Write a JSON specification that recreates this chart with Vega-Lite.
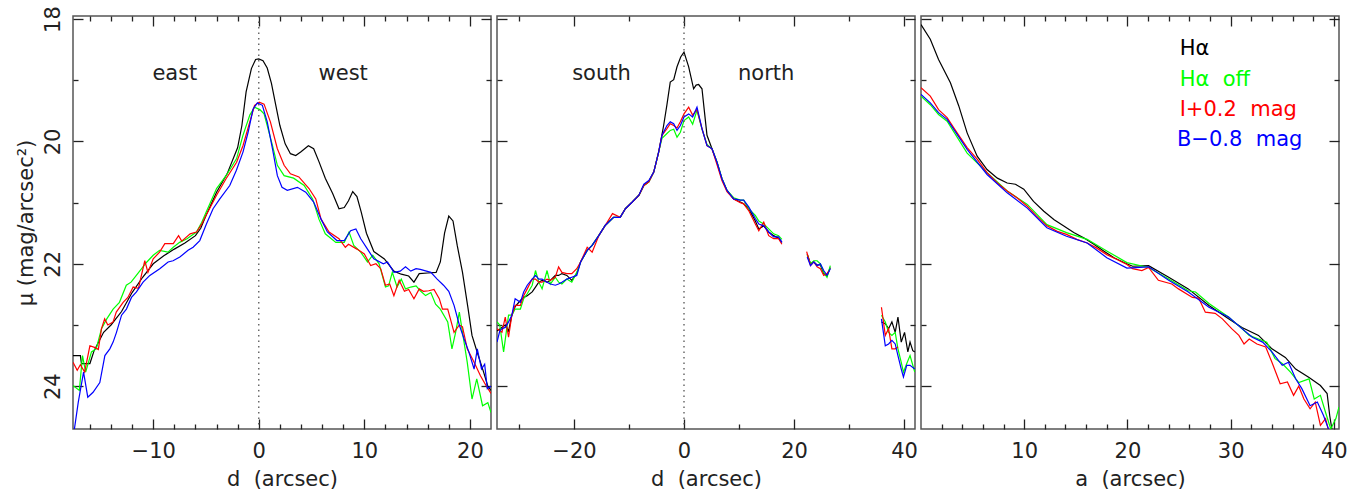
{
"$schema": "https://vega.github.io/schema/vega-lite/v6.json",
"background": "white",
"padding": {"left": 14, "top": 4, "right": 5, "bottom": 5},
"spacing": 6,
"bounds": "flush",
"config": {
  "view": {"stroke": "#555", "strokeWidth": 1.5},
  "axis": {"labelFont": "DejaVu Sans", "titleFont": "DejaVu Sans", "labelFontSize": 21, "titleFontSize": 21, "labelColor": "#222", "titleColor": "#222", "titleFontWeight": "normal", "domain": false, "grid": false, "tickColor": "#222", "tickWidth": 1.3, "labelPadding": 11, "titlePadding": 7}
},
"datasets": {
"p1": [
{"b":"Ha","x":-17.6,"y":23.5},{"b":"Ha","x":-16.9,"y":23.5},{"b":"Ha","x":-16.8,"y":23.63},{"b":"Ha","x":-16.0,"y":23.63},{"b":"Ha","x":-15.6,"y":23.42},{"b":"Ha","x":-14.7,"y":23.12},{"b":"Ha","x":-14.0,"y":23.0},{"b":"Ha","x":-13.0,"y":22.78},{"b":"Ha","x":-12.0,"y":22.47},{"b":"Ha","x":-11.0,"y":22.22},{"b":"Ha","x":-10.0,"y":22.0},{"b":"Ha","x":-9.0,"y":21.87},{"b":"Ha","x":-8.0,"y":21.76},{"b":"Ha","x":-7.0,"y":21.66},{"b":"Ha","x":-6.0,"y":21.54},{"b":"Ha","x":-5.5,"y":21.42},{"b":"Ha","x":-5.0,"y":21.21},{"b":"Ha","x":-4.0,"y":20.83},{"b":"Ha","x":-3.0,"y":20.53},{"b":"Ha","x":-2.0,"y":20.1},{"b":"Ha","x":-1.6,"y":19.74},{"b":"Ha","x":-1.2,"y":19.19},{"b":"Ha","x":-0.7,"y":18.81},{"b":"Ha","x":-0.3,"y":18.66},{"b":"Ha","x":0.0,"y":18.65},{"b":"Ha","x":0.4,"y":18.68},{"b":"Ha","x":0.8,"y":18.8},{"b":"Ha","x":1.2,"y":19.05},{"b":"Ha","x":1.6,"y":19.4},{"b":"Ha","x":2.0,"y":19.74},{"b":"Ha","x":2.5,"y":20.04},{"b":"Ha","x":3.0,"y":20.2},{"b":"Ha","x":3.5,"y":20.23},{"b":"Ha","x":4.0,"y":20.17},{"b":"Ha","x":4.7,"y":20.07},{"b":"Ha","x":5.2,"y":20.12},{"b":"Ha","x":5.7,"y":20.33},{"b":"Ha","x":6.3,"y":20.6},{"b":"Ha","x":7.0,"y":20.85},{"b":"Ha","x":7.6,"y":21.1},{"b":"Ha","x":8.1,"y":21.08},{"b":"Ha","x":8.5,"y":20.97},{"b":"Ha","x":8.9,"y":20.82},{"b":"Ha","x":9.3,"y":20.9},{"b":"Ha","x":9.7,"y":21.15},{"b":"Ha","x":10.2,"y":21.5},{"b":"Ha","x":10.9,"y":21.8},{"b":"Ha","x":11.9,"y":21.92},{"b":"Ha","x":12.8,"y":22.12},{"b":"Ha","x":13.5,"y":22.17},{"b":"Ha","x":14.2,"y":22.2},{"b":"Ha","x":14.7,"y":22.3},{"b":"Ha","x":15.2,"y":22.16},{"b":"Ha","x":16.0,"y":22.15},{"b":"Ha","x":16.8,"y":22.14},{"b":"Ha","x":17.2,"y":21.97},{"b":"Ha","x":17.6,"y":21.5},{"b":"Ha","x":18.0,"y":21.22},{"b":"Ha","x":18.4,"y":21.3},{"b":"Ha","x":18.8,"y":21.7},{"b":"Ha","x":19.3,"y":22.14},{"b":"Ha","x":19.8,"y":22.7},{"b":"Ha","x":20.2,"y":23.17},{"b":"Ha","x":20.7,"y":23.45},{"b":"Ha","x":21.3,"y":23.77},{"b":"Ha","x":21.7,"y":24.0},{"b":"Ha","x":22.0,"y":24.07},
{"b":"Haoff","x":-17.6,"y":23.99},{"b":"Haoff","x":-17.0,"y":24.07},{"b":"Haoff","x":-16.7,"y":23.5},{"b":"Haoff","x":-16.4,"y":23.77},{"b":"Haoff","x":-15.85,"y":23.44},{"b":"Haoff","x":-15.4,"y":23.39},{"b":"Haoff","x":-14.9,"y":23.06},{"b":"Haoff","x":-14.4,"y":22.9},{"b":"Haoff","x":-13.8,"y":22.74},{"b":"Haoff","x":-13.2,"y":22.63},{"b":"Haoff","x":-12.55,"y":22.35},{"b":"Haoff","x":-12.1,"y":22.3},{"b":"Haoff","x":-11.6,"y":22.19},{"b":"Haoff","x":-11.1,"y":22.08},{"b":"Haoff","x":-10.6,"y":21.97},{"b":"Haoff","x":-10.0,"y":21.86},{"b":"Haoff","x":-9.4,"y":21.78},{"b":"Haoff","x":-8.6,"y":21.81},{"b":"Haoff","x":-8.1,"y":21.73},{"b":"Haoff","x":-7.5,"y":21.65},{"b":"Haoff","x":-6.8,"y":21.59},{"b":"Haoff","x":-5.9,"y":21.48},{"b":"Haoff","x":-5.4,"y":21.32},{"b":"Haoff","x":-5.0,"y":21.16},{"b":"Haoff","x":-4.0,"y":20.77},{"b":"Haoff","x":-3.1,"y":20.56},{"b":"Haoff","x":-2.1,"y":20.28},{"b":"Haoff","x":-1.5,"y":19.9},{"b":"Haoff","x":-0.85,"y":19.57},{"b":"Haoff","x":-0.4,"y":19.44},{"b":"Haoff","x":0.1,"y":19.48},{"b":"Haoff","x":0.5,"y":19.55},{"b":"Haoff","x":0.8,"y":19.74},{"b":"Haoff","x":1.3,"y":20.07},{"b":"Haoff","x":1.76,"y":20.39},{"b":"Haoff","x":2.4,"y":20.56},{"b":"Haoff","x":3.3,"y":20.6},{"b":"Haoff","x":4.3,"y":20.72},{"b":"Haoff","x":5.1,"y":20.94},{"b":"Haoff","x":5.7,"y":21.27},{"b":"Haoff","x":6.3,"y":21.51},{"b":"Haoff","x":7.3,"y":21.65},{"b":"Haoff","x":8.1,"y":21.65},{"b":"Haoff","x":8.55,"y":21.48},{"b":"Haoff","x":9.0,"y":21.7},{"b":"Haoff","x":9.66,"y":21.81},{"b":"Haoff","x":10.3,"y":21.97},{"b":"Haoff","x":10.8,"y":21.86},{"b":"Haoff","x":11.4,"y":22.0},{"b":"Haoff","x":12.0,"y":22.38},{"b":"Haoff","x":12.3,"y":22.36},{"b":"Haoff","x":12.65,"y":22.14},{"b":"Haoff","x":13.1,"y":22.38},{"b":"Haoff","x":13.5,"y":22.25},{"b":"Haoff","x":13.9,"y":22.41},{"b":"Haoff","x":14.4,"y":22.38},{"b":"Haoff","x":14.9,"y":22.36},{"b":"Haoff","x":15.3,"y":22.44},{"b":"Haoff","x":15.8,"y":22.52},{"b":"Haoff","x":16.3,"y":22.47},{"b":"Haoff","x":16.75,"y":22.66},{"b":"Haoff","x":17.2,"y":22.74},{"b":"Haoff","x":17.9,"y":22.95},{"b":"Haoff","x":18.3,"y":23.39},{"b":"Haoff","x":18.65,"y":23.12},{"b":"Haoff","x":19.0,"y":22.79},{"b":"Haoff","x":19.3,"y":23.12},{"b":"Haoff","x":19.75,"y":23.61},{"b":"Haoff","x":20.2,"y":24.21},{"b":"Haoff","x":20.65,"y":23.88},{"b":"Haoff","x":21.2,"y":24.32},{"b":"Haoff","x":21.7,"y":24.27},{"b":"Haoff","x":22.0,"y":24.43},
{"b":"I","x":-17.6,"y":23.61},{"b":"I","x":-17.2,"y":23.74},{"b":"I","x":-16.9,"y":23.65},{"b":"I","x":-16.5,"y":23.77},{"b":"I","x":-16.0,"y":23.34},{"b":"I","x":-15.5,"y":23.37},{"b":"I","x":-15.2,"y":23.4},{"b":"I","x":-14.9,"y":23.06},{"b":"I","x":-14.6,"y":22.9},{"b":"I","x":-14.3,"y":23.0},{"b":"I","x":-13.8,"y":22.95},{"b":"I","x":-13.5,"y":22.79},{"b":"I","x":-12.85,"y":22.63},{"b":"I","x":-12.4,"y":22.55},{"b":"I","x":-11.9,"y":22.38},{"b":"I","x":-11.4,"y":22.4},{"b":"I","x":-10.8,"y":21.95},{"b":"I","x":-10.5,"y":22.14},{"b":"I","x":-10.0,"y":21.92},{"b":"I","x":-9.4,"y":21.81},{"b":"I","x":-8.9,"y":21.67},{"b":"I","x":-8.1,"y":21.67},{"b":"I","x":-7.6,"y":21.54},{"b":"I","x":-7.3,"y":21.63},{"b":"I","x":-6.5,"y":21.51},{"b":"I","x":-5.9,"y":21.48},{"b":"I","x":-5.4,"y":21.35},{"b":"I","x":-5.0,"y":21.21},{"b":"I","x":-4.0,"y":20.88},{"b":"I","x":-3.1,"y":20.61},{"b":"I","x":-2.1,"y":20.34},{"b":"I","x":-1.5,"y":20.07},{"b":"I","x":-0.85,"y":19.68},{"b":"I","x":-0.4,"y":19.41},{"b":"I","x":0.05,"y":19.36},{"b":"I","x":0.5,"y":19.39},{"b":"I","x":1.1,"y":19.68},{"b":"I","x":1.76,"y":20.12},{"b":"I","x":2.4,"y":20.39},{"b":"I","x":3.0,"y":20.53},{"b":"I","x":3.8,"y":20.58},{"b":"I","x":4.76,"y":20.77},{"b":"I","x":5.4,"y":20.94},{"b":"I","x":5.9,"y":21.27},{"b":"I","x":6.66,"y":21.48},{"b":"I","x":7.6,"y":21.59},{"b":"I","x":8.2,"y":21.73},{"b":"I","x":8.5,"y":21.68},{"b":"I","x":9.3,"y":21.76},{"b":"I","x":10.0,"y":21.84},{"b":"I","x":10.6,"y":22.03},{"b":"I","x":11.1,"y":22.0},{"b":"I","x":11.55,"y":22.08},{"b":"I","x":12.0,"y":22.35},{"b":"I","x":12.4,"y":22.33},{"b":"I","x":12.8,"y":22.52},{"b":"I","x":13.3,"y":22.27},{"b":"I","x":13.8,"y":22.45},{"b":"I","x":14.2,"y":22.42},{"b":"I","x":14.7,"y":22.57},{"b":"I","x":15.2,"y":22.41},{"b":"I","x":15.6,"y":22.45},{"b":"I","x":16.1,"y":22.44},{"b":"I","x":16.6,"y":22.42},{"b":"I","x":17.1,"y":22.57},{"b":"I","x":17.4,"y":22.74},{"b":"I","x":17.9,"y":22.74},{"b":"I","x":18.5,"y":23.12},{"b":"I","x":19.0,"y":23.0},{"b":"I","x":19.3,"y":23.03},{"b":"I","x":19.75,"y":23.39},{"b":"I","x":20.4,"y":23.61},{"b":"I","x":21.0,"y":23.83},{"b":"I","x":21.5,"y":23.98},{"b":"I","x":22.0,"y":24.12},
{"b":"B","x":-17.55,"y":24.8},{"b":"B","x":-17.1,"y":24.26},{"b":"B","x":-16.6,"y":23.77},{"b":"B","x":-16.2,"y":24.18},{"b":"B","x":-15.7,"y":24.1},{"b":"B","x":-15.06,"y":23.94},{"b":"B","x":-14.58,"y":23.5},{"b":"B","x":-14.11,"y":23.39},{"b":"B","x":-13.8,"y":23.28},{"b":"B","x":-13.48,"y":23.12},{"b":"B","x":-13.0,"y":22.84},{"b":"B","x":-12.54,"y":22.74},{"b":"B","x":-12.06,"y":22.55},{"b":"B","x":-11.59,"y":22.46},{"b":"B","x":-10.96,"y":22.3},{"b":"B","x":-10.32,"y":22.19},{"b":"B","x":-9.38,"y":22.08},{"b":"B","x":-8.59,"y":21.97},{"b":"B","x":-8.12,"y":21.95},{"b":"B","x":-7.48,"y":21.89},{"b":"B","x":-6.7,"y":21.78},{"b":"B","x":-6.22,"y":21.73},{"b":"B","x":-5.59,"y":21.62},{"b":"B","x":-4.96,"y":21.35},{"b":"B","x":-4.33,"y":21.1},{"b":"B","x":-3.69,"y":20.94},{"b":"B","x":-2.75,"y":20.72},{"b":"B","x":-2.12,"y":20.47},{"b":"B","x":-1.49,"y":20.17},{"b":"B","x":-1.01,"y":19.85},{"b":"B","x":-0.54,"y":19.47},{"b":"B","x":-0.13,"y":19.37},{"b":"B","x":0.34,"y":19.41},{"b":"B","x":0.8,"y":19.68},{"b":"B","x":1.3,"y":20.12},{"b":"B","x":1.76,"y":20.56},{"b":"B","x":2.2,"y":20.75},{"b":"B","x":2.7,"y":20.8},{"b":"B","x":3.66,"y":20.75},{"b":"B","x":4.45,"y":20.83},{"b":"B","x":5.2,"y":20.99},{"b":"B","x":5.9,"y":21.27},{"b":"B","x":6.5,"y":21.48},{"b":"B","x":7.4,"y":21.62},{"b":"B","x":8.1,"y":21.62},{"b":"B","x":8.7,"y":21.46},{"b":"B","x":9.2,"y":21.43},{"b":"B","x":9.66,"y":21.59},{"b":"B","x":10.3,"y":21.76},{"b":"B","x":10.9,"y":21.92},{"b":"B","x":11.8,"y":22.0},{"b":"B","x":12.2,"y":21.97},{"b":"B","x":12.8,"y":22.14},{"b":"B","x":13.4,"y":22.12},{"b":"B","x":13.9,"y":22.05},{"b":"B","x":14.4,"y":22.12},{"b":"B","x":14.9,"y":22.08},{"b":"B","x":15.3,"y":22.09},{"b":"B","x":16.3,"y":22.14},{"b":"B","x":16.9,"y":22.25},{"b":"B","x":17.5,"y":22.35},{"b":"B","x":18.0,"y":22.45},{"b":"B","x":18.5,"y":22.68},{"b":"B","x":19.0,"y":23.0},{"b":"B","x":19.45,"y":23.23},{"b":"B","x":19.9,"y":23.44},{"b":"B","x":20.4,"y":23.72},{"b":"B","x":20.7,"y":23.39},{"b":"B","x":21.1,"y":23.72},{"b":"B","x":21.4,"y":23.64},{"b":"B","x":21.65,"y":24.04},{"b":"B","x":22.0,"y":24.0}
],
"p2": [
{"b":"Ha","s":1,"x":-34.0,"y":23.1},{"b":"Ha","s":1,"x":-33.1,"y":23.04},{"b":"Ha","s":1,"x":-32.5,"y":23.0},{"b":"Ha","s":1,"x":-31.9,"y":23.1},{"b":"Ha","s":1,"x":-31.3,"y":22.84},{"b":"Ha","s":1,"x":-30.7,"y":22.7},{"b":"Ha","s":1,"x":-29.75,"y":22.6},{"b":"Ha","s":1,"x":-29.15,"y":22.55},{"b":"Ha","s":1,"x":-28.5,"y":22.52},{"b":"Ha","s":1,"x":-27.6,"y":22.46},{"b":"Ha","s":1,"x":-27.0,"y":22.38},{"b":"Ha","s":1,"x":-26.4,"y":22.3},{"b":"Ha","s":1,"x":-25.8,"y":22.27},{"b":"Ha","s":1,"x":-24.9,"y":22.3},{"b":"Ha","s":1,"x":-24.3,"y":22.27},{"b":"Ha","s":1,"x":-23.4,"y":22.19},{"b":"Ha","s":1,"x":-22.8,"y":22.19},{"b":"Ha","s":1,"x":-22.2,"y":22.16},{"b":"Ha","s":1,"x":-21.3,"y":22.19},{"b":"Ha","s":1,"x":-20.4,"y":22.27},{"b":"Ha","s":1,"x":-19.5,"y":22.16},{"b":"Ha","s":1,"x":-18.8,"y":21.97},{"b":"Ha","s":1,"x":-17.6,"y":21.78},{"b":"Ha","s":1,"x":-16.7,"y":21.7},{"b":"Ha","s":1,"x":-15.5,"y":21.54},{"b":"Ha","s":1,"x":-14.3,"y":21.37},{"b":"Ha","s":1,"x":-12.8,"y":21.24},{"b":"Ha","s":1,"x":-11.6,"y":21.24},{"b":"Ha","s":1,"x":-10.66,"y":21.1},{"b":"Ha","s":1,"x":-9.4,"y":20.99},{"b":"Ha","s":1,"x":-8.2,"y":20.88},{"b":"Ha","s":1,"x":-7.3,"y":20.72},{"b":"Ha","s":1,"x":-6.4,"y":20.66},{"b":"Ha","s":1,"x":-5.5,"y":20.5},{"b":"Ha","s":1,"x":-4.6,"y":20.17},{"b":"Ha","s":1,"x":-3.7,"y":19.74},{"b":"Ha","s":1,"x":-3.1,"y":19.4},{"b":"Ha","s":1,"x":-2.5,"y":19.03},{"b":"Ha","s":1,"x":-1.87,"y":18.99},{"b":"Ha","s":1,"x":-1.27,"y":18.78},{"b":"Ha","s":1,"x":-0.6,"y":18.62},{"b":"Ha","s":1,"x":0.0,"y":18.54},{"b":"Ha","s":1,"x":0.85,"y":18.78},{"b":"Ha","s":1,"x":1.75,"y":19.14},{"b":"Ha","s":1,"x":2.2,"y":19.08},{"b":"Ha","s":1,"x":2.66,"y":19.07},{"b":"Ha","s":1,"x":3.27,"y":19.14},{"b":"Ha","s":1,"x":3.7,"y":19.5},{"b":"Ha","s":1,"x":4.18,"y":19.9},{"b":"Ha","s":1,"x":5.09,"y":20.12},{"b":"Ha","s":1,"x":6.0,"y":20.34},{"b":"Ha","s":1,"x":6.9,"y":20.61},{"b":"Ha","s":1,"x":7.82,"y":20.8},{"b":"Ha","s":1,"x":9.03,"y":20.94},{"b":"Ha","s":1,"x":10.24,"y":20.99},{"b":"Ha","s":1,"x":10.85,"y":21.02},{"b":"Ha","s":1,"x":11.76,"y":21.1},{"b":"Ha","s":1,"x":12.97,"y":21.3},{"b":"Ha","s":1,"x":13.6,"y":21.43},{"b":"Ha","s":1,"x":14.5,"y":21.38},{"b":"Ha","s":1,"x":15.4,"y":21.48},{"b":"Ha","s":1,"x":16.3,"y":21.54},{"b":"Ha","s":1,"x":17.2,"y":21.58},{"b":"Ha","s":1,"x":17.8,"y":21.65},
{"b":"Ha","s":2,"x":22.4,"y":21.84},{"b":"Ha","s":2,"x":23.0,"y":22.0},{"b":"Ha","s":2,"x":23.6,"y":21.97},{"b":"Ha","s":2,"x":24.2,"y":22.02},{"b":"Ha","s":2,"x":24.8,"y":22.02},{"b":"Ha","s":2,"x":25.4,"y":22.16},{"b":"Ha","s":2,"x":26.0,"y":22.2},{"b":"Ha","s":2,"x":26.6,"y":22.06},
{"b":"Ha","s":3,"x":35.9,"y":22.95},{"b":"Ha","s":3,"x":36.6,"y":22.98},{"b":"Ha","s":3,"x":37.2,"y":23.06},{"b":"Ha","s":3,"x":37.8,"y":22.95},{"b":"Ha","s":3,"x":38.4,"y":23.12},{"b":"Ha","s":3,"x":38.9,"y":22.87},{"b":"Ha","s":3,"x":39.5,"y":23.28},{"b":"Ha","s":3,"x":40.1,"y":23.12},{"b":"Ha","s":3,"x":40.7,"y":23.44},{"b":"Ha","s":3,"x":41.1,"y":23.28},{"b":"Ha","s":3,"x":41.6,"y":23.42},{"b":"Ha","s":3,"x":41.95,"y":23.44},
{"b":"Haoff","s":1,"x":-34.0,"y":22.95},{"b":"Haoff","s":1,"x":-33.5,"y":23.0},{"b":"Haoff","s":1,"x":-32.8,"y":23.44},{"b":"Haoff","s":1,"x":-31.9,"y":22.84},{"b":"Haoff","s":1,"x":-31.3,"y":22.84},{"b":"Haoff","s":1,"x":-30.7,"y":22.74},{"b":"Haoff","s":1,"x":-29.75,"y":22.74},{"b":"Haoff","s":1,"x":-29.15,"y":22.57},{"b":"Haoff","s":1,"x":-28.5,"y":22.49},{"b":"Haoff","s":1,"x":-27.6,"y":22.35},{"b":"Haoff","s":1,"x":-27.0,"y":22.11},{"b":"Haoff","s":1,"x":-26.4,"y":22.3},{"b":"Haoff","s":1,"x":-25.8,"y":22.41},{"b":"Haoff","s":1,"x":-24.9,"y":22.11},{"b":"Haoff","s":1,"x":-24.3,"y":22.33},{"b":"Haoff","s":1,"x":-23.4,"y":22.22},{"b":"Haoff","s":1,"x":-22.8,"y":22.3},{"b":"Haoff","s":1,"x":-22.2,"y":22.33},{"b":"Haoff","s":1,"x":-21.3,"y":22.25},{"b":"Haoff","s":1,"x":-20.4,"y":22.3},{"b":"Haoff","s":1,"x":-19.5,"y":22.14},{"b":"Haoff","s":1,"x":-18.8,"y":21.97},{"b":"Haoff","s":1,"x":-17.6,"y":21.78},{"b":"Haoff","s":1,"x":-16.7,"y":21.7},{"b":"Haoff","s":1,"x":-15.5,"y":21.54},{"b":"Haoff","s":1,"x":-14.3,"y":21.37},{"b":"Haoff","s":1,"x":-12.8,"y":21.24},{"b":"Haoff","s":1,"x":-11.6,"y":21.24},{"b":"Haoff","s":1,"x":-10.66,"y":21.1},{"b":"Haoff","s":1,"x":-9.4,"y":20.99},{"b":"Haoff","s":1,"x":-8.2,"y":20.88},{"b":"Haoff","s":1,"x":-7.3,"y":20.72},{"b":"Haoff","s":1,"x":-6.4,"y":20.66},{"b":"Haoff","s":1,"x":-5.5,"y":20.5},{"b":"Haoff","s":1,"x":-4.6,"y":20.17},{"b":"Haoff","s":1,"x":-4.0,"y":19.95},{"b":"Haoff","s":1,"x":-3.1,"y":19.87},{"b":"Haoff","s":1,"x":-2.5,"y":19.82},{"b":"Haoff","s":1,"x":-1.87,"y":19.8},{"b":"Haoff","s":1,"x":-1.27,"y":19.93},{"b":"Haoff","s":1,"x":-0.66,"y":19.85},{"b":"Haoff","s":1,"x":0.0,"y":19.66},{"b":"Haoff","s":1,"x":0.85,"y":19.6},{"b":"Haoff","s":1,"x":1.57,"y":19.72},{"b":"Haoff","s":1,"x":2.36,"y":19.49},{"b":"Haoff","s":1,"x":3.27,"y":19.8},{"b":"Haoff","s":1,"x":4.18,"y":20.05},{"b":"Haoff","s":1,"x":5.09,"y":20.12},{"b":"Haoff","s":1,"x":6.0,"y":20.34},{"b":"Haoff","s":1,"x":6.9,"y":20.61},{"b":"Haoff","s":1,"x":7.82,"y":20.8},{"b":"Haoff","s":1,"x":9.03,"y":20.92},{"b":"Haoff","s":1,"x":10.24,"y":20.96},{"b":"Haoff","s":1,"x":10.85,"y":20.96},{"b":"Haoff","s":1,"x":11.76,"y":21.1},{"b":"Haoff","s":1,"x":12.97,"y":21.21},{"b":"Haoff","s":1,"x":13.6,"y":21.3},{"b":"Haoff","s":1,"x":14.5,"y":21.35},{"b":"Haoff","s":1,"x":15.4,"y":21.43},{"b":"Haoff","s":1,"x":16.3,"y":21.51},{"b":"Haoff","s":1,"x":17.2,"y":21.54},{"b":"Haoff","s":1,"x":17.8,"y":21.6},
{"b":"Haoff","s":2,"x":22.4,"y":21.86},{"b":"Haoff","s":2,"x":23.0,"y":22.0},{"b":"Haoff","s":2,"x":23.6,"y":21.95},{"b":"Haoff","s":2,"x":24.2,"y":21.95},{"b":"Haoff","s":2,"x":24.8,"y":22.0},{"b":"Haoff","s":2,"x":25.4,"y":22.14},{"b":"Haoff","s":2,"x":26.0,"y":22.22},{"b":"Haoff","s":2,"x":26.6,"y":22.03},
{"b":"Haoff","s":3,"x":35.9,"y":22.84},{"b":"Haoff","s":3,"x":36.6,"y":22.95},{"b":"Haoff","s":3,"x":37.2,"y":23.12},{"b":"Haoff","s":3,"x":37.8,"y":23.17},{"b":"Haoff","s":3,"x":38.4,"y":23.12},{"b":"Haoff","s":3,"x":38.9,"y":23.39},{"b":"Haoff","s":3,"x":39.5,"y":23.61},{"b":"Haoff","s":3,"x":39.9,"y":23.77},{"b":"Haoff","s":3,"x":40.5,"y":23.63},{"b":"Haoff","s":3,"x":41.1,"y":23.5},{"b":"Haoff","s":3,"x":41.95,"y":23.77},
{"b":"I","s":1,"x":-34.0,"y":23.06},{"b":"I","s":1,"x":-33.1,"y":23.12},{"b":"I","s":1,"x":-32.5,"y":22.87},{"b":"I","s":1,"x":-31.9,"y":23.2},{"b":"I","s":1,"x":-31.3,"y":22.84},{"b":"I","s":1,"x":-30.7,"y":22.68},{"b":"I","s":1,"x":-29.75,"y":22.68},{"b":"I","s":1,"x":-29.15,"y":22.52},{"b":"I","s":1,"x":-28.5,"y":22.41},{"b":"I","s":1,"x":-27.6,"y":22.25},{"b":"I","s":1,"x":-27.0,"y":22.25},{"b":"I","s":1,"x":-26.4,"y":22.3},{"b":"I","s":1,"x":-25.8,"y":22.3},{"b":"I","s":1,"x":-24.9,"y":22.25},{"b":"I","s":1,"x":-24.3,"y":22.27},{"b":"I","s":1,"x":-23.4,"y":22.22},{"b":"I","s":1,"x":-22.8,"y":22.05},{"b":"I","s":1,"x":-22.2,"y":22.14},{"b":"I","s":1,"x":-21.3,"y":22.16},{"b":"I","s":1,"x":-20.4,"y":22.16},{"b":"I","s":1,"x":-19.5,"y":22.08},{"b":"I","s":1,"x":-18.8,"y":21.97},{"b":"I","s":1,"x":-17.6,"y":21.73},{"b":"I","s":1,"x":-16.7,"y":21.81},{"b":"I","s":1,"x":-15.5,"y":21.54},{"b":"I","s":1,"x":-14.3,"y":21.37},{"b":"I","s":1,"x":-13.0,"y":21.18},{"b":"I","s":1,"x":-11.6,"y":21.24},{"b":"I","s":1,"x":-10.66,"y":21.1},{"b":"I","s":1,"x":-9.4,"y":20.99},{"b":"I","s":1,"x":-8.2,"y":20.88},{"b":"I","s":1,"x":-7.3,"y":20.72},{"b":"I","s":1,"x":-6.4,"y":20.66},{"b":"I","s":1,"x":-5.5,"y":20.5},{"b":"I","s":1,"x":-4.6,"y":20.17},{"b":"I","s":1,"x":-4.0,"y":19.9},{"b":"I","s":1,"x":-3.1,"y":19.79},{"b":"I","s":1,"x":-2.5,"y":19.71},{"b":"I","s":1,"x":-1.87,"y":19.74},{"b":"I","s":1,"x":-1.27,"y":19.78},{"b":"I","s":1,"x":-0.66,"y":19.68},{"b":"I","s":1,"x":0.0,"y":19.55},{"b":"I","s":1,"x":0.85,"y":19.44},{"b":"I","s":1,"x":1.57,"y":19.57},{"b":"I","s":1,"x":2.36,"y":19.48},{"b":"I","s":1,"x":3.27,"y":19.79},{"b":"I","s":1,"x":4.18,"y":20.07},{"b":"I","s":1,"x":5.09,"y":20.12},{"b":"I","s":1,"x":6.0,"y":20.38},{"b":"I","s":1,"x":6.9,"y":20.64},{"b":"I","s":1,"x":7.82,"y":20.82},{"b":"I","s":1,"x":9.03,"y":20.94},{"b":"I","s":1,"x":10.24,"y":21.0},{"b":"I","s":1,"x":10.85,"y":21.02},{"b":"I","s":1,"x":11.76,"y":21.13},{"b":"I","s":1,"x":12.97,"y":21.35},{"b":"I","s":1,"x":13.6,"y":21.46},{"b":"I","s":1,"x":14.5,"y":21.32},{"b":"I","s":1,"x":15.4,"y":21.54},{"b":"I","s":1,"x":16.3,"y":21.59},{"b":"I","s":1,"x":17.2,"y":21.59},{"b":"I","s":1,"x":17.8,"y":21.68},
{"b":"I","s":2,"x":22.3,"y":21.8},{"b":"I","s":2,"x":23.0,"y":22.03},{"b":"I","s":2,"x":23.6,"y":21.97},{"b":"I","s":2,"x":24.2,"y":22.05},{"b":"I","s":2,"x":24.8,"y":22.08},{"b":"I","s":2,"x":25.4,"y":22.19},{"b":"I","s":2,"x":26.0,"y":22.16},{"b":"I","s":2,"x":26.3,"y":22.12},
{"b":"I","s":3,"x":35.9,"y":22.71},{"b":"I","s":3,"x":36.6,"y":23.17},{"b":"I","s":3,"x":37.2,"y":23.06},{"b":"I","s":3,"x":37.8,"y":23.39},{"b":"I","s":3,"x":38.4,"y":23.39},{"b":"I","s":3,"x":38.9,"y":23.36},
{"b":"B","s":1,"x":-34.0,"y":23.28},{"b":"B","s":1,"x":-33.5,"y":23.1},{"b":"B","s":1,"x":-33.1,"y":23.06},{"b":"B","s":1,"x":-32.5,"y":23.04},{"b":"B","s":1,"x":-31.9,"y":22.95},{"b":"B","s":1,"x":-31.3,"y":22.84},{"b":"B","s":1,"x":-30.7,"y":22.57},{"b":"B","s":1,"x":-29.75,"y":22.63},{"b":"B","s":1,"x":-29.15,"y":22.46},{"b":"B","s":1,"x":-28.5,"y":22.35},{"b":"B","s":1,"x":-27.6,"y":22.25},{"b":"B","s":1,"x":-27.0,"y":22.19},{"b":"B","s":1,"x":-26.4,"y":22.25},{"b":"B","s":1,"x":-25.8,"y":22.25},{"b":"B","s":1,"x":-24.9,"y":22.3},{"b":"B","s":1,"x":-24.3,"y":22.33},{"b":"B","s":1,"x":-23.4,"y":22.35},{"b":"B","s":1,"x":-22.8,"y":22.33},{"b":"B","s":1,"x":-22.2,"y":22.3},{"b":"B","s":1,"x":-21.3,"y":22.25},{"b":"B","s":1,"x":-20.4,"y":22.22},{"b":"B","s":1,"x":-19.5,"y":22.19},{"b":"B","s":1,"x":-18.8,"y":21.97},{"b":"B","s":1,"x":-17.6,"y":21.78},{"b":"B","s":1,"x":-16.7,"y":21.7},{"b":"B","s":1,"x":-15.5,"y":21.54},{"b":"B","s":1,"x":-14.3,"y":21.37},{"b":"B","s":1,"x":-12.8,"y":21.24},{"b":"B","s":1,"x":-11.6,"y":21.24},{"b":"B","s":1,"x":-10.66,"y":21.1},{"b":"B","s":1,"x":-9.4,"y":20.99},{"b":"B","s":1,"x":-8.2,"y":20.88},{"b":"B","s":1,"x":-7.3,"y":20.7},{"b":"B","s":1,"x":-6.4,"y":20.64},{"b":"B","s":1,"x":-5.5,"y":20.5},{"b":"B","s":1,"x":-4.6,"y":20.17},{"b":"B","s":1,"x":-4.0,"y":19.9},{"b":"B","s":1,"x":-3.1,"y":19.74},{"b":"B","s":1,"x":-2.5,"y":19.68},{"b":"B","s":1,"x":-1.87,"y":19.71},{"b":"B","s":1,"x":-1.27,"y":19.82},{"b":"B","s":1,"x":-0.66,"y":19.74},{"b":"B","s":1,"x":0.0,"y":19.6},{"b":"B","s":1,"x":0.85,"y":19.55},{"b":"B","s":1,"x":1.57,"y":19.6},{"b":"B","s":1,"x":2.36,"y":19.44},{"b":"B","s":1,"x":3.27,"y":19.79},{"b":"B","s":1,"x":4.18,"y":20.07},{"b":"B","s":1,"x":5.09,"y":20.12},{"b":"B","s":1,"x":6.0,"y":20.34},{"b":"B","s":1,"x":6.9,"y":20.61},{"b":"B","s":1,"x":7.82,"y":20.8},{"b":"B","s":1,"x":9.03,"y":20.94},{"b":"B","s":1,"x":10.24,"y":20.96},{"b":"B","s":1,"x":10.85,"y":20.96},{"b":"B","s":1,"x":11.76,"y":21.07},{"b":"B","s":1,"x":12.97,"y":21.26},{"b":"B","s":1,"x":13.6,"y":21.35},{"b":"B","s":1,"x":14.5,"y":21.38},{"b":"B","s":1,"x":15.4,"y":21.48},{"b":"B","s":1,"x":16.3,"y":21.56},{"b":"B","s":1,"x":17.2,"y":21.56},{"b":"B","s":1,"x":17.8,"y":21.65},
{"b":"B","s":2,"x":22.4,"y":21.89},{"b":"B","s":2,"x":23.0,"y":22.03},{"b":"B","s":2,"x":23.6,"y":21.97},{"b":"B","s":2,"x":24.2,"y":22.03},{"b":"B","s":2,"x":24.8,"y":22.0},{"b":"B","s":2,"x":25.4,"y":22.11},{"b":"B","s":2,"x":26.0,"y":22.19},{"b":"B","s":2,"x":26.6,"y":22.08},
{"b":"B","s":3,"x":35.9,"y":22.9},{"b":"B","s":3,"x":36.6,"y":23.34},{"b":"B","s":3,"x":37.2,"y":23.31},{"b":"B","s":3,"x":37.8,"y":23.25},{"b":"B","s":3,"x":38.4,"y":23.31},{"b":"B","s":3,"x":38.9,"y":23.5},{"b":"B","s":3,"x":39.5,"y":23.72},{"b":"B","s":3,"x":39.9,"y":23.85},{"b":"B","s":3,"x":40.5,"y":23.66},{"b":"B","s":3,"x":41.1,"y":23.66},{"b":"B","s":3,"x":41.95,"y":23.72}
],
"p3": [
{"b":"Ha","x":0.0,"y":18.09},{"b":"Ha","x":0.9,"y":18.33},{"b":"Ha","x":1.7,"y":18.66},{"b":"Ha","x":2.85,"y":19.04},{"b":"Ha","x":3.66,"y":19.42},{"b":"Ha","x":4.47,"y":19.86},{"b":"Ha","x":5.44,"y":20.24},{"b":"Ha","x":6.4,"y":20.46},{"b":"Ha","x":7.4,"y":20.6},{"b":"Ha","x":8.35,"y":20.68},{"b":"Ha","x":9.15,"y":20.7},{"b":"Ha","x":9.96,"y":20.78},{"b":"Ha","x":10.9,"y":20.98},{"b":"Ha","x":11.9,"y":21.14},{"b":"Ha","x":12.9,"y":21.28},{"b":"Ha","x":13.8,"y":21.38},{"b":"Ha","x":14.8,"y":21.49},{"b":"Ha","x":15.8,"y":21.58},{"b":"Ha","x":16.75,"y":21.68},{"b":"Ha","x":17.7,"y":21.79},{"b":"Ha","x":18.7,"y":21.9},{"b":"Ha","x":19.66,"y":21.98},{"b":"Ha","x":20.5,"y":22.04},{"b":"Ha","x":22.05,"y":22.03},{"b":"Ha","x":24.0,"y":22.22},{"b":"Ha","x":25.9,"y":22.41},{"b":"Ha","x":27.9,"y":22.68},{"b":"Ha","x":29.8,"y":22.9},{"b":"Ha","x":31.1,"y":23.04},{"b":"Ha","x":32.7,"y":23.17},{"b":"Ha","x":34.0,"y":23.39},{"b":"Ha","x":35.3,"y":23.53},{"b":"Ha","x":36.3,"y":23.72},{"b":"Ha","x":37.6,"y":23.86},{"b":"Ha","x":38.7,"y":23.99},{"b":"Ha","x":39.35,"y":24.12},{"b":"Ha","x":39.6,"y":24.48},{"b":"Ha","x":39.9,"y":24.8},
{"b":"Haoff","x":0.0,"y":19.26},{"b":"Haoff","x":0.9,"y":19.4},{"b":"Haoff","x":1.7,"y":19.56},{"b":"Haoff","x":2.53,"y":19.67},{"b":"Haoff","x":4.47,"y":20.19},{"b":"Haoff","x":6.4,"y":20.51},{"b":"Haoff","x":8.35,"y":20.81},{"b":"Haoff","x":10.3,"y":21.03},{"b":"Haoff","x":12.2,"y":21.36},{"b":"Haoff","x":14.1,"y":21.49},{"b":"Haoff","x":16.1,"y":21.6},{"b":"Haoff","x":18.0,"y":21.79},{"b":"Haoff","x":19.95,"y":21.98},{"b":"Haoff","x":22.05,"y":22.06},{"b":"Haoff","x":24.0,"y":22.25},{"b":"Haoff","x":25.9,"y":22.44},{"b":"Haoff","x":26.6,"y":22.46},{"b":"Haoff","x":27.9,"y":22.65},{"b":"Haoff","x":29.8,"y":22.87},{"b":"Haoff","x":31.1,"y":23.06},{"b":"Haoff","x":31.8,"y":23.17},{"b":"Haoff","x":32.7,"y":23.23},{"b":"Haoff","x":33.5,"y":23.28},{"b":"Haoff","x":34.3,"y":23.55},{"b":"Haoff","x":35.0,"y":23.63},{"b":"Haoff","x":35.8,"y":23.77},{"b":"Haoff","x":36.6,"y":23.94},{"b":"Haoff","x":37.6,"y":23.88},{"b":"Haoff","x":38.1,"y":24.21},{"b":"Haoff","x":38.7,"y":24.15},{"b":"Haoff","x":39.2,"y":24.43},{"b":"Haoff","x":39.7,"y":24.7},{"b":"Haoff","x":40.2,"y":24.53},{"b":"Haoff","x":40.5,"y":24.34},
{"b":"I","x":0.0,"y":19.12},{"b":"I","x":0.9,"y":19.26},{"b":"I","x":1.7,"y":19.48},{"b":"I","x":2.53,"y":19.61},{"b":"I","x":3.5,"y":19.86},{"b":"I","x":4.47,"y":20.1},{"b":"I","x":5.44,"y":20.29},{"b":"I","x":6.4,"y":20.51},{"b":"I","x":7.4,"y":20.68},{"b":"I","x":8.35,"y":20.81},{"b":"I","x":9.3,"y":20.92},{"b":"I","x":10.3,"y":21.06},{"b":"I","x":11.2,"y":21.22},{"b":"I","x":12.2,"y":21.38},{"b":"I","x":13.2,"y":21.47},{"b":"I","x":14.1,"y":21.52},{"b":"I","x":15.1,"y":21.6},{"b":"I","x":16.1,"y":21.66},{"b":"I","x":17.0,"y":21.74},{"b":"I","x":18.0,"y":21.85},{"b":"I","x":19.0,"y":21.93},{"b":"I","x":19.95,"y":22.01},{"b":"I","x":20.5,"y":22.08},{"b":"I","x":21.4,"y":22.11},{"b":"I","x":22.05,"y":22.06},{"b":"I","x":23.0,"y":22.27},{"b":"I","x":24.3,"y":22.33},{"b":"I","x":24.95,"y":22.41},{"b":"I","x":26.3,"y":22.55},{"b":"I","x":26.9,"y":22.56},{"b":"I","x":27.55,"y":22.79},{"b":"I","x":28.5,"y":22.81},{"b":"I","x":29.2,"y":22.9},{"b":"I","x":30.1,"y":23.06},{"b":"I","x":30.8,"y":23.17},{"b":"I","x":31.3,"y":23.31},{"b":"I","x":31.8,"y":23.23},{"b":"I","x":32.55,"y":23.31},{"b":"I","x":33.4,"y":23.36},{"b":"I","x":34.0,"y":23.61},{"b":"I","x":34.8,"y":23.96},{"b":"I","x":35.5,"y":23.93},{"b":"I","x":36.1,"y":24.15},{"b":"I","x":36.6,"y":24.0},{"b":"I","x":37.1,"y":24.21},{"b":"I","x":37.7,"y":24.37},{"b":"I","x":38.2,"y":24.26},{"b":"I","x":38.7,"y":24.64},{"b":"I","x":39.2,"y":24.53},{"b":"I","x":39.6,"y":24.8},
{"b":"B","x":0.0,"y":19.23},{"b":"B","x":0.9,"y":19.37},{"b":"B","x":1.7,"y":19.53},{"b":"B","x":2.53,"y":19.64},{"b":"B","x":4.47,"y":20.13},{"b":"B","x":6.4,"y":20.54},{"b":"B","x":8.35,"y":20.84},{"b":"B","x":10.3,"y":21.09},{"b":"B","x":12.2,"y":21.41},{"b":"B","x":14.1,"y":21.55},{"b":"B","x":16.1,"y":21.66},{"b":"B","x":18.0,"y":21.9},{"b":"B","x":19.95,"y":22.07},{"b":"B","x":22.05,"y":22.05},{"b":"B","x":24.0,"y":22.27},{"b":"B","x":25.9,"y":22.46},{"b":"B","x":27.9,"y":22.71},{"b":"B","x":29.8,"y":22.87},{"b":"B","x":31.1,"y":23.06},{"b":"B","x":32.1,"y":23.2},{"b":"B","x":33.1,"y":23.28},{"b":"B","x":34.0,"y":23.44},{"b":"B","x":35.0,"y":23.66},{"b":"B","x":35.6,"y":23.61},{"b":"B","x":36.3,"y":23.88},{"b":"B","x":36.9,"y":24.04},{"b":"B","x":37.7,"y":24.32},{"b":"B","x":38.4,"y":24.26},{"b":"B","x":39.0,"y":24.48},{"b":"B","x":39.7,"y":24.8}
]
},
"hconcat": [
{
  "width": 418, "height": 413,
  "layer": [
    {"data": {"name": "p1"}, "mark": {"type": "line", "strokeWidth": 1.2, "clip": true},
     "encoding": {
       "x": {"field": "x", "type": "quantitative", "scale": {"domain": [-17.6, 22], "nice": false, "zero": false},
             "axis": {"orient": "bottom", "title": "d\u00a0 (arcsec)", "values": [-10,0,10,20], "offset": -10, "tickSize": 10}},
       "y": {"field": "y", "type": "quantitative", "scale": {"domain": [24.7, 17.95], "nice": false, "zero": false},
             "axis": {"orient": "left", "title": "μ (mag/arcsec²)", "values": [18,20,22,24], "offset": -10, "tickSize": 10, "labelAngle": -90, "labelAlign": "center", "labelBaseline": "bottom", "labelPadding": 10, "titlePadding": 6, "minExtent": 0}},
       "color": {"field": "b", "type": "nominal", "scale": {"domain": ["Ha","Haoff","I","B"], "range": ["#000000","#00ff00","#ff0000","#0000ff"]}, "legend": null}
     }},
    {"data": {"values": [{}]}, "mark": {"type": "rule", "strokeDash": [1.5, 4], "color": "#555", "strokeWidth": 1.3},
     "encoding": {"x": {"datum": 0, "type": "quantitative", "scale": {"domain": [-17.6, 22], "nice": false, "zero": false}, "axis": null}}},
    {"data": {"values": [{"t": "east", "x": -7.95, "y": 18.9}, {"t": "west", "x": 8.0, "y": 18.9}]},
     "mark": {"type": "text", "font": "DejaVu Sans", "fontSize": 21, "color": "#222", "baseline": "middle"},
     "encoding": {"x": {"field": "x", "type": "quantitative", "scale": {"domain": [-17.6, 22], "nice": false, "zero": false}, "axis": null},
                  "y": {"field": "y", "type": "quantitative", "scale": {"domain": [24.7, 17.95], "nice": false, "zero": false}, "axis": null},
                  "text": {"field": "t"}}},
    {"data": {"values": [{}]}, "mark": {"type": "point", "opacity": 0, "size": 0},
     "encoding": {
       "x": {"datum": 2, "type": "quantitative", "scale": {"domain": [-17.6, 22], "nice": false, "zero": false},
             "axis": {"orient": "top", "title": null, "labels": false, "values": [-10,0,10,20], "offset": -10, "tickSize": 10}},
       "y": {"datum": 21, "type": "quantitative", "scale": {"domain": [24.7, 17.95], "nice": false, "zero": false},
             "axis": {"orient": "right", "title": null, "labels": false, "values": [18,20,22,24], "offset": -10, "tickSize": 10}}
     }},
    {"data": {"values": [{}]}, "mark": {"type": "point", "opacity": 0, "size": 0},
     "encoding": {
       "x": {"datum": 2, "type": "quantitative", "scale": {"domain": [-17.6, 22], "nice": false, "zero": false},
             "axis": {"orient": "bottom", "title": null, "labels": false, "values": [-16,-14,-12,-8,-6,-4,-2,2,4,6,8,12,14,16,18], "offset": -5, "tickSize": 5}},
       "y": {"datum": 21, "type": "quantitative", "scale": {"domain": [24.7, 17.95], "nice": false, "zero": false},
             "axis": {"orient": "left", "title": null, "labels": false, "values": [19,21,23], "offset": -5, "tickSize": 5}}
     }},
    {"data": {"values": [{}]}, "mark": {"type": "point", "opacity": 0, "size": 0},
     "encoding": {
       "x": {"datum": 2, "type": "quantitative", "scale": {"domain": [-17.6, 22], "nice": false, "zero": false},
             "axis": {"orient": "top", "title": null, "labels": false, "values": [-16,-14,-12,-8,-6,-4,-2,2,4,6,8,12,14,16,18], "offset": -5, "tickSize": 5}},
       "y": {"datum": 21, "type": "quantitative", "scale": {"domain": [24.7, 17.95], "nice": false, "zero": false},
             "axis": {"orient": "right", "title": null, "labels": false, "values": [19,21,23], "offset": -5, "tickSize": 5}}
     }}
  ],
  "resolve": {"axis": {"x": "independent", "y": "independent"}}
},
{
  "width": 418, "height": 413,
  "layer": [
    {"data": {"name": "p2"}, "mark": {"type": "line", "strokeWidth": 1.2, "clip": true},
     "encoding": {
       "x": {"field": "x", "type": "quantitative", "scale": {"domain": [-34, 42], "nice": false, "zero": false},
             "axis": {"orient": "bottom", "title": "d\u00a0 (arcsec)", "values": [-20,0,20,40], "offset": -10, "tickSize": 10}},
       "y": {"field": "y", "type": "quantitative", "scale": {"domain": [24.7, 17.95], "nice": false, "zero": false},
             "axis": {"orient": "left", "title": null, "labels": false, "values": [18,20,22,24], "offset": -10, "tickSize": 10, "minExtent": 0}},
       "color": {"field": "b", "type": "nominal", "scale": {"domain": ["Ha","Haoff","I","B"], "range": ["#000000","#00ff00","#ff0000","#0000ff"]}, "legend": null},
       "detail": {"field": "s", "type": "nominal"}
     }},
    {"data": {"values": [{}]}, "mark": {"type": "rule", "strokeDash": [1.5, 4], "color": "#555", "strokeWidth": 1.3},
     "encoding": {"x": {"datum": 0, "type": "quantitative", "scale": {"domain": [-34, 42], "nice": false, "zero": false}, "axis": null}}},
    {"data": {"values": [{"t": "south", "x": -15.0, "y": 18.9}, {"t": "north", "x": 14.95, "y": 18.9}]},
     "mark": {"type": "text", "font": "DejaVu Sans", "fontSize": 21, "color": "#222", "baseline": "middle"},
     "encoding": {"x": {"field": "x", "type": "quantitative", "scale": {"domain": [-34, 42], "nice": false, "zero": false}, "axis": null},
                  "y": {"field": "y", "type": "quantitative", "scale": {"domain": [24.7, 17.95], "nice": false, "zero": false}, "axis": null},
                  "text": {"field": "t"}}},
    {"data": {"values": [{}]}, "mark": {"type": "point", "opacity": 0, "size": 0},
     "encoding": {
       "x": {"datum": 5, "type": "quantitative", "scale": {"domain": [-34, 42], "nice": false, "zero": false},
             "axis": {"orient": "top", "title": null, "labels": false, "values": [-20,0,20,40], "offset": -10, "tickSize": 10}},
       "y": {"datum": 21, "type": "quantitative", "scale": {"domain": [24.7, 17.95], "nice": false, "zero": false},
             "axis": {"orient": "right", "title": null, "labels": false, "values": [18,20,22,24], "offset": -10, "tickSize": 10}}
     }},
    {"data": {"values": [{}]}, "mark": {"type": "point", "opacity": 0, "size": 0},
     "encoding": {
       "x": {"datum": 5, "type": "quantitative", "scale": {"domain": [-34, 42], "nice": false, "zero": false},
             "axis": {"orient": "bottom", "title": null, "labels": false, "values": [-30,-10,10,30], "offset": -5, "tickSize": 5}},
       "y": {"datum": 21, "type": "quantitative", "scale": {"domain": [24.7, 17.95], "nice": false, "zero": false},
             "axis": {"orient": "left", "title": null, "labels": false, "values": [19,21,23], "offset": -5, "tickSize": 5}}
     }},
    {"data": {"values": [{}]}, "mark": {"type": "point", "opacity": 0, "size": 0},
     "encoding": {
       "x": {"datum": 5, "type": "quantitative", "scale": {"domain": [-34, 42], "nice": false, "zero": false},
             "axis": {"orient": "top", "title": null, "labels": false, "values": [-30,-10,10,30], "offset": -5, "tickSize": 5}},
       "y": {"datum": 21, "type": "quantitative", "scale": {"domain": [24.7, 17.95], "nice": false, "zero": false},
             "axis": {"orient": "right", "title": null, "labels": false, "values": [19,21,23], "offset": -5, "tickSize": 5}}
     }}
  ],
  "resolve": {"axis": {"x": "independent", "y": "independent"}}
},
{
  "width": 418, "height": 413,
  "layer": [
    {"data": {"name": "p3"}, "mark": {"type": "line", "strokeWidth": 1.2, "clip": true},
     "encoding": {
       "x": {"field": "x", "type": "quantitative", "scale": {"domain": [0, 40.5], "nice": false, "zero": false},
             "axis": {"orient": "bottom", "title": "a\u00a0 (arcsec)", "values": [10,20,30,40], "offset": -10, "tickSize": 10}},
       "y": {"field": "y", "type": "quantitative", "scale": {"domain": [24.7, 17.95], "nice": false, "zero": false},
             "axis": {"orient": "left", "title": null, "labels": false, "values": [18,20,22,24], "offset": -10, "tickSize": 10, "minExtent": 0}},
       "color": {"field": "b", "type": "nominal", "scale": {"domain": ["Ha","Haoff","I","B"], "range": ["#000000","#00ff00","#ff0000","#0000ff"]}, "legend": null}
     }},
    {"data": {"values": [{"t": "Hα", "b": "Ha", "x": 25.06, "y": 18.49}, {"t": "Hα\u00a0 off", "b": "Haoff", "x": 25.06, "y": 18.99}, {"t": "I+0.2\u00a0 mag", "b": "I", "x": 25.06, "y": 19.49}, {"t": "B−0.8\u00a0 mag", "b": "B", "x": 24.8, "y": 19.98}]},
     "mark": {"type": "text", "font": "DejaVu Sans", "fontSize": 21, "align": "left", "baseline": "middle"},
     "encoding": {"x": {"field": "x", "type": "quantitative", "scale": {"domain": [0, 40.5], "nice": false, "zero": false}, "axis": null},
                  "y": {"field": "y", "type": "quantitative", "scale": {"domain": [24.7, 17.95], "nice": false, "zero": false}, "axis": null},
                  "text": {"field": "t"},
                  "color": {"field": "b", "type": "nominal", "scale": {"domain": ["Ha","Haoff","I","B"], "range": ["#000000","#00ff00","#ff0000","#0000ff"]}, "legend": null}}},
    {"data": {"values": [{}]}, "mark": {"type": "point", "opacity": 0, "size": 0},
     "encoding": {
       "x": {"datum": 20, "type": "quantitative", "scale": {"domain": [0, 40.5], "nice": false, "zero": false},
             "axis": {"orient": "top", "title": null, "labels": false, "values": [10,20,30,40], "offset": -10, "tickSize": 10}},
       "y": {"datum": 21, "type": "quantitative", "scale": {"domain": [24.7, 17.95], "nice": false, "zero": false},
             "axis": {"orient": "right", "title": null, "labels": false, "values": [18,20,22,24], "offset": -10, "tickSize": 10}}
     }},
    {"data": {"values": [{}]}, "mark": {"type": "point", "opacity": 0, "size": 0},
     "encoding": {
       "x": {"datum": 20, "type": "quantitative", "scale": {"domain": [0, 40.5], "nice": false, "zero": false},
             "axis": {"orient": "bottom", "title": null, "labels": false, "values": [2,4,6,8,12,14,16,18,22,24,26,28,32,34,36,38], "offset": -5, "tickSize": 5}},
       "y": {"datum": 21, "type": "quantitative", "scale": {"domain": [24.7, 17.95], "nice": false, "zero": false},
             "axis": {"orient": "left", "title": null, "labels": false, "values": [19,21,23], "offset": -5, "tickSize": 5}}
     }},
    {"data": {"values": [{}]}, "mark": {"type": "point", "opacity": 0, "size": 0},
     "encoding": {
       "x": {"datum": 20, "type": "quantitative", "scale": {"domain": [0, 40.5], "nice": false, "zero": false},
             "axis": {"orient": "top", "title": null, "labels": false, "values": [2,4,6,8,12,14,16,18,22,24,26,28,32,34,36,38], "offset": -5, "tickSize": 5}},
       "y": {"datum": 21, "type": "quantitative", "scale": {"domain": [24.7, 17.95], "nice": false, "zero": false},
             "axis": {"orient": "right", "title": null, "labels": false, "values": [19,21,23], "offset": -5, "tickSize": 5}}
     }}
  ],
  "resolve": {"axis": {"x": "independent", "y": "independent"}}
}
]
}
